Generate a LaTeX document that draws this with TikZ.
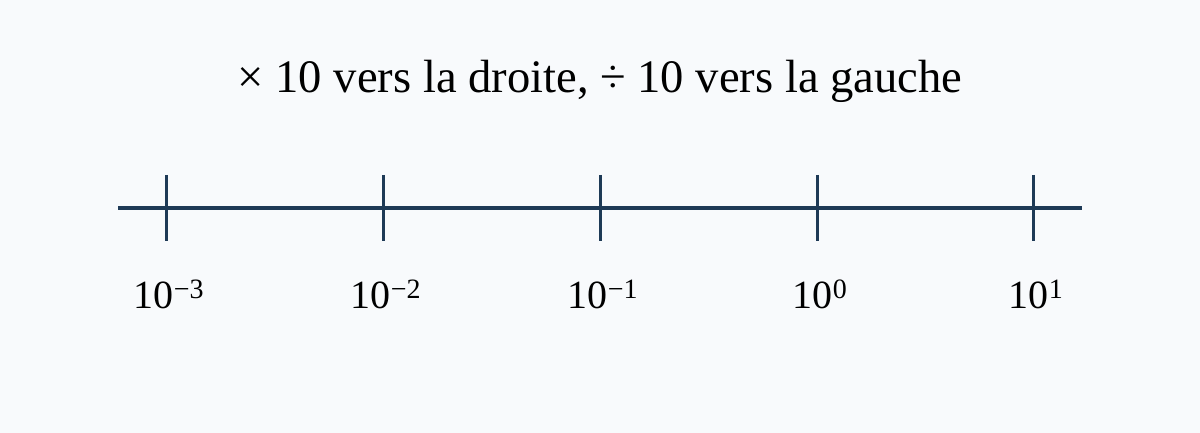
\documentclass[tikz,border=0pt]{standalone}
\usepackage{fontspec}
\setmainfont{Liberation Serif}
\usepackage{xcolor}
\usetikzlibrary{positioning}
\definecolor{axisblue}{HTML}{1E3A56}
\definecolor{paper}{HTML}{F8FAFC}
\tikzset {
  x=1pt, y=-1pt,
  % main axis line
  axis/.style = {draw=axisblue, line width=4pt},
  % tick marks on the axis
  tick/.style = {draw=axisblue, line width=3pt},
  % labels under the ticks
  power/.style = {font=\fontsize{40}{44}\selectfont, inner sep=0pt, anchor=base},
  title/.style = {font=\fontsize{46.6}{50}\selectfont, inner sep=0pt, anchor=base},
}
\begin{document}
\begin{tikzpicture}
      \fill[paper] (0, 0) rectangle (1200, 433);
      \useasboundingbox (0, 0) rectangle (1200, 433);

      \node[title] (head) at (600, 93) {× 10 vers la droite, ÷ 10 vers la gauche};

      \coordinate (l) at (118, 208);
      \coordinate (r) at (1082, 208);
      \draw [axis] (l) -- (r);

      \foreach \i/\x/\e in {1/166/−3, 2/383/−2, 3/600/−1, 4/817/0, 5/1033/1} {
        \coordinate (t\i) at (\x, 175);
        \coordinate (b\i) at (\x, 241);
        \draw [tick] (t\i) -- (b\i);
        \node[power] (p\i) at ([xshift=3pt, yshift=-67pt]b\i) {10\textsuperscript{\e}};
      }
    \end{tikzpicture}
\end{document}
